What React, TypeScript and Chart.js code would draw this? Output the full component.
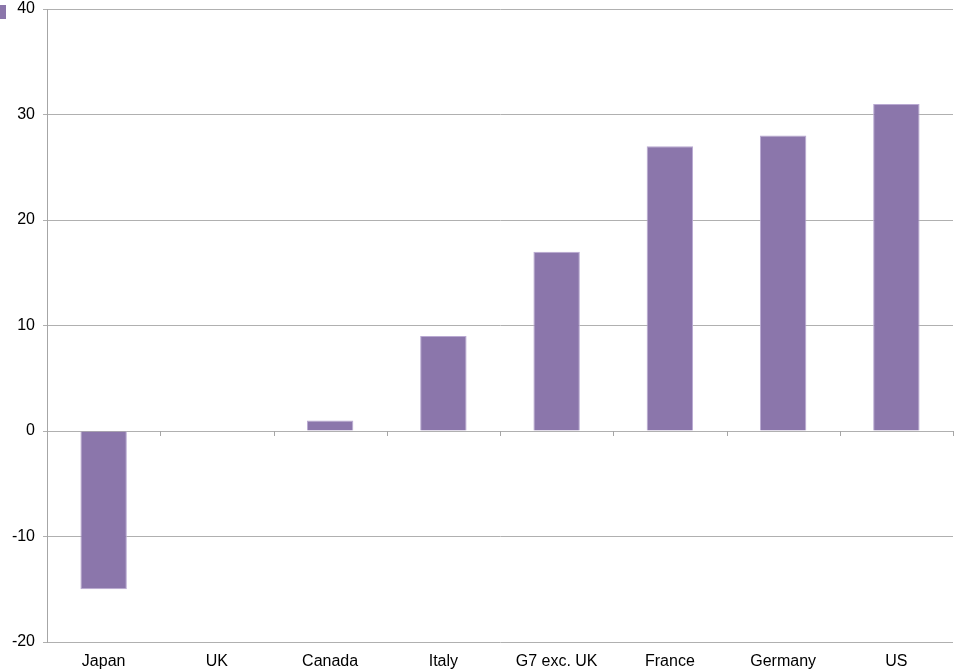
import React, { useEffect, useRef } from "react";
import { Chart, registerables } from "chart.js";

Chart.register(...registerables);

const countries = ["Japan", "UK", "Canada", "Italy", "G7 exc. UK", "France", "Germany", "US"];
const changes = [-15, 0, 1, 9, 17, 27, 28, 31];
const yTicks = [-20, -10, 0, 10, 20, 30, 40];

const FONT = "'Liberation Sans', Arial, sans-serif";

// Short category tick marks hanging below the zero line
const zeroLineTicks = {
  id: "zeroLineTicks",
  afterDatasetsDraw(chart: any) {
    const { ctx, chartArea, scales } = chart;
    const y0 = scales.y.getPixelForValue(0);
    const n = countries.length;
    const step = (chartArea.right - chartArea.left) / n;
    ctx.save();
    ctx.strokeStyle = "#a6a6a6";
    ctx.lineWidth = 1;
    for (let i = 0; i <= n; i++) {
      const x = Math.round(chartArea.left + i * step) + 0.5;
      ctx.beginPath();
      ctx.moveTo(x, y0);
      ctx.lineTo(x, y0 + 5);
      ctx.stroke();
    }
    ctx.restore();
  },
};

export default function App() {
  const canvasRef = useRef<HTMLCanvasElement | null>(null);

  useEffect(() => {
    if (!canvasRef.current) return;
    const chart = new Chart(canvasRef.current, {
      type: "bar",
      data: {
        labels: countries,
        datasets: [
          {
            data: changes,
            backgroundColor: "#8b76ab",
            borderColor: "#b9a9d2",
            borderWidth: 1,
            barPercentage: 0.41,
            categoryPercentage: 1,
          },
        ],
      },
      options: {
        responsive: false,
        animation: false,
        layout: { padding: { top: 0, right: 8, left: 0, bottom: 0 } },
        plugins: {
          legend: { display: false },
          tooltip: { enabled: false },
        },
        scales: {
          x: {
            grid: { display: false, drawTicks: false },
            border: { display: false },
            afterFit: (scale: any) => {
              scale.height = 30;
            },
            ticks: {
              color: "#000",
              font: { family: FONT, size: 16 },
              padding: 10,
              maxRotation: 0,
              autoSkip: false,
            },
          },
          y: {
            min: yTicks[0],
            max: yTicks[yTicks.length - 1],
            afterBuildTicks: (scale: any) => {
              scale.ticks = yTicks.map((v) => ({ value: v }));
            },
            afterFit: (scale: any) => {
              scale.width = 47;
              scale.paddingTop = 9;
              scale.paddingBottom = 0;
            },
            grid: { color: "#b0b0b0", tickLength: 4, lineWidth: 1 },
            border: { color: "#a6a6a6" },
            ticks: {
              color: "#000",
              font: { family: FONT, size: 16 },
              padding: 8,
            },
          },
        },
      },
      plugins: [zeroLineTicks],
    });
    return () => chart.destroy();
  }, []);

  return (
    <div style={{ position: "absolute", left: 0, top: 0, width: 961, height: 672, background: "#fff" }}>
      <canvas ref={canvasRef} width={961} height={672} />
      <div style={{ position: "absolute", left: 0, top: 5, width: 6, height: 14, background: "#8b76ab" }} />
    </div>
  );
}
